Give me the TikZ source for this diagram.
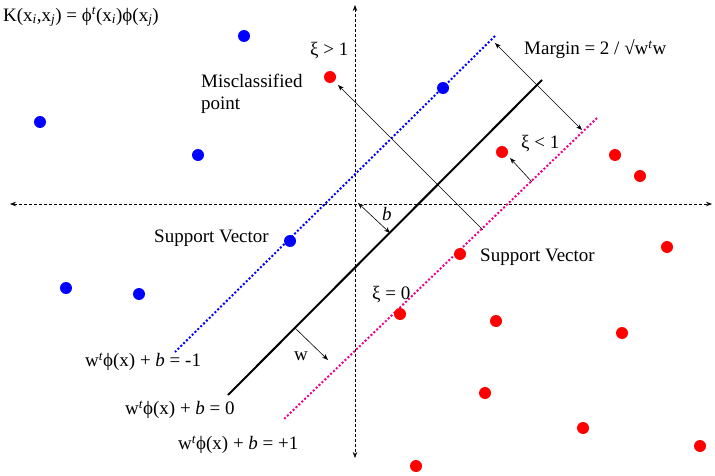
\documentclass[tikz,border=0pt]{standalone}
\usepackage{fontspec}
\setmainfont{Liberation Serif}
\usetikzlibrary{arrows.meta}
\begin{document}
\begin{tikzpicture}[x=1pt,y=-1pt,
  lbl/.style={font=\fontsize{19}{22}\selectfont,inner sep=0pt,anchor=west},
  bpt/.style={circle,fill=blue,inner sep=0pt,minimum size=12pt},
  rpt/.style={circle,fill=red,inner sep=0pt,minimum size=12pt},
  axis/.style={densely dashed,line width=0.7pt,{Stealth[length=6pt]}-{Stealth[length=6pt]}},
  thin arrow/.style={line width=0.6pt,-{Stealth[length=6pt]}},
  dbl arrow/.style={line width=0.6pt,{Stealth[length=6pt]}-{Stealth[length=6pt]}}]
\useasboundingbox[fill=white] (0,0) rectangle (715,476);
\coordinate (xl) at (10,204); \coordinate (xr) at (712,204);
\coordinate (yt) at (355,5); \coordinate (yb) at (355,458);
\draw[axis] (xl) -- (xr);
\draw[axis] (yt) -- (yb);
\coordinate (bl1) at (495,36); \coordinate (bl2) at (175,352);
\coordinate (k1) at (542,80); \coordinate (k2) at (228,395);
\coordinate (m1) at (597,118); \coordinate (m2) at (283,420);
\draw[blue,dotted,line width=2pt] (bl1) -- (bl2);
\draw[black,line width=2pt] (k1) -- (k2);
\draw[magenta,dotted,line width=2pt] (m1) -- (m2);
\foreach \n/\p in {b1/{(244,36)},b2/{(40,122)},b3/{(198,155)},b4/{(290,241)},b5/{(66,288)},b6/{(139,294)},b7/{(443,88)}}
  \node[bpt] (\n) at \p {};
\foreach \n/\p in {r1/{(330,77)},r2/{(502,152)},r3/{(615,155)},r4/{(640,176)},r5/{(667,247)},r6/{(460,254)},r7/{(400,314)},r8/{(496,321)},r9/{(622,333)},r10/{(485,393)},r11/{(583,428)},r12/{(700,446)},r13/{(416,466)}}
  \node[rpt] (\n) at \p {};
\coordinate (ma) at (495,43); \coordinate (mb) at (582,130);
\draw[dbl arrow] (ma) -- (mb);
\coordinate (x1a) at (483,230); \coordinate (x1b) at (338,85);
\draw[thin arrow] (x1a) -- (x1b);
\coordinate (x2a) at (532,182); \coordinate (x2b) at (510,158);
\draw[thin arrow] (x2a) -- (x2b);
\coordinate (ba) at (358,203); \coordinate (bb) at (390,233);
\draw[dbl arrow] (ba) -- (bb);
\coordinate (wa) at (295,328); \coordinate (wb) at (328,360);
\draw[thin arrow] (wa) -- (wb);
\node[lbl] (tk) at (3,17) {K(x\textsubscript{\itshape i},x\textsubscript{\itshape j}) = ϕ\textsuperscript{\itshape t}(x\textsubscript{\itshape i})ϕ(x\textsubscript{\itshape j})};
\node[lbl] (tx1) at (310,51) {ξ > 1};
\node[lbl,align=left,anchor=north west] (tmis) at (201,74) {Misclassified\\point};
\node[lbl] (tm) at (524,49) {Margin = 2 / √w\textsuperscript{\itshape t}w};
\node[lbl] (tx2) at (521,144) {ξ < 1};
\node[lbl] (tsv1) at (154,238) {Support Vector};
\node[lbl] (tsv2) at (480,257) {Support Vector};
\node[lbl] (tx0) at (372,295) {ξ = 0};
\node[lbl] (tb) at (382,214) {\itshape b};
\node[lbl] (tw) at (294,356) {w};
\node[lbl] (e1) at (85,362) {w\textsuperscript{\itshape t}ϕ(x) + \textit{b} = -1};
\node[lbl] (e0) at (125,410) {w\textsuperscript{\itshape t}ϕ(x) + \textit{b} = 0};
\node[lbl] (e2) at (178,445) {w\textsuperscript{\itshape t}ϕ(x) + \textit{b} = +1};
\end{tikzpicture}
\end{document}
